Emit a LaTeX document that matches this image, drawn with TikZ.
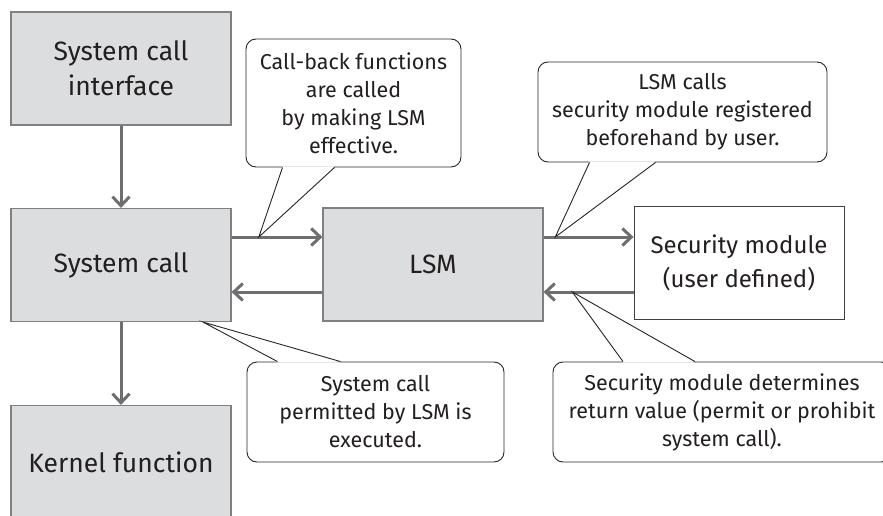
\documentclass[tikz,border=0pt]{standalone}
\usepackage{fontspec}
\setmainfont{Fira Sans}
\usetikzlibrary{arrows.meta}
\definecolor{boxgray}{RGB}{220,221,222}
\definecolor{edgegray}{RGB}{128,128,128}
\definecolor{arrgray}{RGB}{110,110,112}
\definecolor{ink}{RGB}{35,31,32}
\tikzset{
  blk/.style={draw=edgegray,fill=boxgray,line width=1.2pt,minimum width=220pt,minimum height=113pt,inner sep=0pt,align=center,text=ink,font=\fontsize{26.5}{35}\selectfont},
  mod/.style={blk,draw=black!75,line width=0.9pt,fill=white,minimum width=210pt,font=\fontsize{24}{34}\selectfont},
  note/.style={draw=black!85,fill=white,line width=0.9pt,rounded corners=10pt,inner sep=0pt,align=center,text=ink,font=\fontsize{21.5}{28}\selectfont},
  flow/.style={draw=arrgray,line width=3pt,-{Straight Barb[length=9pt,width=17pt]}},
  ptr/.style={draw=black!85,line width=0.9pt,line join=miter},
}
\begin{document}
\begin{tikzpicture}[x=1pt,y=-1pt]
\useasboundingbox (0,0) rectangle (883,516);
\node[blk] (sci) at (121,68.5) {System call\\interface};
\node[blk] (sc) at (121,265) {System call};
\node[blk] (kf) at (121,462) {Kernel function};
\node[blk] (lsm) at (433,264.5) {LSM};
\node[mod] (sm) at (739,262.5) {Security module\\(user defined)};
% flow arrows
\draw[flow] (sci) -- (sc);
\draw[flow] (sc) -- (kf);
\coordinate (r1) at ([yshift=28pt]sc.east);
\coordinate (r2) at ([yshift=-27pt]sc.east);
\draw[flow] (r1) -- coordinate[pos=0.3] (t1) (r1 -| lsm.west);
\draw[flow] (r1 -| lsm.east) -- coordinate[pos=0.13] (t2) (r1 -| sm.west);
\draw[flow] (r2 -| sm.west) -- coordinate[pos=0.68] (t4) (r2 -| lsm.east);
\draw[flow] (r2 -| lsm.west) -- (r2);
\coordinate (t3) at ([xshift=82pt]sc.south);
% callouts
\node[note,minimum width=215pt,minimum height=128pt] (cb) at (353.5,103) {Call-back functions\\are called\\by making LSM\\effective.};
\fill[white] ([xshift=-71pt,yshift=1pt]cb.south) -- (t1) -- ([xshift=-19pt,yshift=1pt]cb.south) -- cycle;
\draw[ptr] ([xshift=-71pt]cb.south) -- (t1) -- ([xshift=-19pt]cb.south);
\node[note,minimum width=289pt,minimum height=100pt] (lc) at (682.5,112) {LSM calls\\security module registered\\beforehand by user.};
\fill[white] ([xshift=-93pt,yshift=1pt]lc.south) -- (t2) -- ([xshift=-27pt,yshift=1pt]lc.south) -- cycle;
\draw[ptr] ([xshift=-93pt]lc.south) -- (t2) -- ([xshift=-27pt]lc.south);
\node[note,minimum width=257pt,minimum height=100pt] (pe) at (375.5,412) {System call\\permitted by LSM is\\executed.};
\fill[white] ([xshift=-98pt,yshift=-1pt]pe.north) -- (t3) -- ([xshift=-35pt,yshift=-1pt]pe.north) -- cycle;
\draw[ptr] ([xshift=-98pt]pe.north) -- (t3) -- ([xshift=-35pt]pe.north);
\node[note,minimum width=338pt,minimum height=100pt] (rv) at (722,412) {Security module determines\\return value (permit or prohibit\\system call).};
\fill[white] ([xshift=-99pt,yshift=-1pt]rv.north) -- (t4) -- ([xshift=-27pt,yshift=-1pt]rv.north) -- cycle;
\draw[ptr] ([xshift=-99pt]rv.north) -- (t4) -- ([xshift=-27pt]rv.north);
\end{tikzpicture}
\end{document}
